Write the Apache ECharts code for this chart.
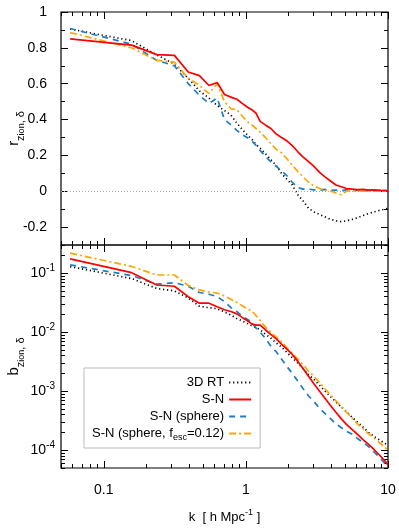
<!DOCTYPE html>
<html>
<head>
<meta charset="utf-8">
<script src="https://cdn.jsdelivr.net/npm/echarts@6/dist/echarts.min.js"></script>
<style>
  html, body { margin: 0; padding: 0; background: #fff; }
  #main { width: 399px; height: 530px; }
</style>
</head>
<body>
<div id="main"></div>
<script>
var chartDom = document.getElementById('main');
var myChart = echarts.init(chartDom);
var option;

// k bins [h/Mpc]
var kVals = [0.058, 0.157, 0.236, 0.314, 0.393, 0.471, 0.55, 0.628, 0.707, 0.785,
  0.864, 0.942, 1.02, 1.10, 1.18, 1.26, 1.37, 1.5, 1.63, 1.78,
  1.95, 2.12, 2.32, 2.53, 2.76, 3.0, 3.3, 3.6, 3.9, 4.3,
  4.7, 5.1, 5.6, 6.1, 6.7, 7.3, 8.0, 8.7, 9.5, 10];

// cross-correlation r (top panel)
var rRT = [0.905, 0.84, 0.76, 0.71, 0.63, 0.56, 0.52, 0.478, 0.45, 0.425,
  0.38, 0.345, 0.315, 0.29, 0.26, 0.24, 0.21, 0.175, 0.145, 0.10,
  0.065, 0.035, -0.02, -0.055, -0.095, -0.115, -0.13, -0.143, -0.155, -0.165,
  -0.17, -0.165, -0.157, -0.148, -0.135, -0.124, -0.115, -0.107, -0.1, -0.095];
var rSN = [0.85, 0.815, 0.762, 0.758, 0.665, 0.645, 0.59, 0.607, 0.54, 0.525,
  0.513, 0.49, 0.47, 0.455, 0.435, 0.39, 0.37, 0.35, 0.32, 0.30,
  0.28, 0.255, 0.22, 0.19, 0.165, 0.14, 0.105, 0.08, 0.06, 0.035,
  0.025, 0.015, 0.012, 0.009, 0.01, 0.006, 0.008, 0.004, 0.005, 0.002];
var rSphere = [0.908, 0.82, 0.73, 0.70, 0.60, 0.535, 0.49, 0.52, 0.40, 0.37,
  0.34, 0.315, 0.30, 0.28, 0.255, 0.228, 0.195, 0.163, 0.14, 0.115,
  0.085, 0.05, 0.02, 0.012, 0.012, 0.008, 0.006, 0.01, 0.004, 0.007,
  0.003, 0.008, 0.004, 0.006, 0.002, 0.005, 0.003, 0.006, 0.002, 0.004];
var rSphereEsc = [0.885, 0.80, 0.73, 0.72, 0.63, 0.59, 0.545, 0.60, 0.50, 0.46,
  0.455, 0.42, 0.39, 0.37, 0.35, 0.33, 0.30, 0.265, 0.235, 0.215,
  0.18, 0.145, 0.11, 0.08, 0.05, 0.03, 0.015, 0.005, 0.003, -0.01,
  -0.02, 0.0, 0.005, 0.003, 0.001, 0.004, 0.0, 0.003, 0.001, 0.0];

// bias b (bottom panel)
var bRT = [0.129, 0.081, 0.055, 0.050, 0.038, 0.0275, 0.026, 0.025, 0.022, 0.0195,
  0.017, 0.0155, 0.0141, 0.0129, 0.012, 0.011, 0.0093, 0.0079, 0.0066, 0.0056,
  0.0045, 0.0037, 0.003, 0.0024, 0.0019, 0.0016, 0.00126, 0.001, 8.3e-4, 6.6e-4,
  5.4e-4, 4.5e-4, 3.6e-4, 3.0e-4, 2.45e-4, 2.0e-4, 1.7e-4, 1.5e-4, 1.3e-4, 1.23e-4];
var bSN = [0.175, 0.102, 0.063, 0.060, 0.040, 0.031, 0.031, 0.027, 0.024, 0.0224,
  0.0204, 0.0178, 0.0158, 0.0138, 0.0132, 0.0132, 0.011, 0.0091, 0.0078, 0.0063,
  0.0051, 0.0042, 0.0032, 0.0024, 0.0018, 0.00135, 0.001, 7.6e-4, 5.9e-4, 4.4e-4,
  3.4e-4, 2.75e-4, 2.24e-4, 1.86e-4, 1.5e-4, 1.26e-4, 1.02e-4, 8.3e-5, 6.6e-5, 5.6e-5];
var bSphere = [0.138, 0.091, 0.065, 0.069, 0.060, 0.047, 0.044, 0.040, 0.033, 0.026,
  0.0224, 0.0186, 0.0166, 0.0148, 0.0117, 0.010, 0.0079, 0.0058, 0.0047, 0.0035,
  0.0026, 0.002, 0.00148, 0.0011, 8.3e-4, 6.8e-4, 5.1e-4, 4.2e-4, 3.5e-4, 2.8e-4,
  2.4e-4, 2.1e-4, 1.86e-4, 1.58e-4, 1.35e-4, 1.15e-4, 9.3e-5, 7.6e-5, 6.0e-5, 5.0e-5];
var bSphereEsc = [0.218, 0.13, 0.093, 0.093, 0.062, 0.052, 0.048, 0.046, 0.041, 0.036,
  0.032, 0.028, 0.025, 0.023, 0.019, 0.0158, 0.0123, 0.010, 0.0083, 0.0069,
  0.0054, 0.0044, 0.0035, 0.0028, 0.0022, 0.0018, 0.0014, 0.0011, 8.9e-4, 6.9e-4,
  5.4e-4, 4.4e-4, 3.5e-4, 2.8e-4, 2.3e-4, 1.9e-4, 1.6e-4, 1.35e-4, 1.12e-4, 1.0e-4];

var names = ['3D RT', 'S-N', 'S-N (sphere)', 'S-N (sphere, fesc=0.12)'];
var colors = ['#000000', '#ff0000', '#1f7dc0', '#ffa500'];
var dashes = [[1.2, 2.8], 'solid', [6, 5], [7, 3, 2, 3]];

// tick positions
var xMajor = [0.1, 1, 10];
var xMinor = [];
[0.01, 0.1, 1].forEach(function (d) {
  for (var m = 2; m <= 9; m++) xMinor.push(+(m * d).toPrecision(3));
});
var rMajor = [-0.2, 0, 0.2, 0.4, 0.6, 0.8, 1];
var rMinor = [-0.3, -0.1, 0.1, 0.3, 0.5, 0.7, 0.9];
var bMajor = [1e-4, 1e-3, 1e-2, 1e-1];
var bMinor = [];
[1e-5, 1e-4, 1e-3, 1e-2, 1e-1].forEach(function (d) {
  for (var m = 2; m <= 9; m++) bMinor.push(+(m * d).toPrecision(3));
});

var font = 'Liberation Sans, Arial, sans-serif';

function ax(o) {
  var a = {
    gridIndex: o.grid,
    position: o.pos,
    type: o.type,
    min: o.min,
    max: o.max,
    axisLine: { show: false, onZero: false },
    axisTick: {
      show: true, inside: true, length: o.len,
      customValues: o.ticks,
      lineStyle: { color: '#000', width: 1 }
    },
    axisLabel: { show: false },
    splitLine: { show: false },
    minorTick: { show: false },
    silent: true
  };
  if (o.type === 'log') a.logBase = 10;
  if (o.label) a.axisLabel = o.label;
  if (o.name) {
    a.name = o.name;
    a.nameLocation = 'middle';
    a.nameGap = o.nameGap;
    a.nameMoveOverlap = false;
    a.nameTextStyle = o.nameStyle;
  }
  return a;
}

var xCommon = { type: 'log', min: 0.05, max: 10 };
function xAx(grid, pos, ticks, len, extra) {
  return ax(Object.assign({ grid: grid, pos: pos, ticks: ticks, len: len }, xCommon, extra || {}));
}

var xAxes = [
  xAx(0, 'bottom', xMajor, 7), xAx(0, 'bottom', xMinor, 4),
  xAx(0, 'top', xMajor, 7), xAx(0, 'top', xMinor, 4),
  xAx(1, 'bottom', xMajor, 7, {
    label: { show: true, customValues: xMajor, margin: 15, fontSize: 14, fontFamily: font, color: '#000' },
    name: 'k  [ h Mpc{sup|-1} ]', nameGap: 40,
    nameStyle: {
      fontSize: 13, fontFamily: font, color: '#000', lineHeight: 18,
      rich: { sup: { fontSize: 9, lineHeight: 9, verticalAlign: 'top', fontFamily: font } }
    }
  }),
  xAx(1, 'bottom', xMinor, 4),
  xAx(1, 'top', xMajor, 7), xAx(1, 'top', xMinor, 4)
];

var nameRich = {
  sub: { fontSize: 11, lineHeight: 11, verticalAlign: 'bottom', fontFamily: font },
  sub2: { fontSize: 9, lineHeight: 1, verticalAlign: 'bottom', fontFamily: font }
};
var topY = { type: 'value', min: -0.3, max: 1 };
var botY = { type: 'log', min: 5e-5, max: 0.3 };

var yAxes = [
  ax(Object.assign({ grid: 0, pos: 'left', ticks: rMajor, len: 7,
    label: { show: true, customValues: rMajor, margin: 14, fontSize: 14, fontFamily: font, color: '#000' },
    name: 'r{sub|z}{sub2|ion}{sub|, δ}', nameGap: 35,
    nameStyle: { fontSize: 15, fontFamily: font, color: '#000', lineHeight: 24, rich: nameRich }
  }, topY)),
  ax(Object.assign({ grid: 0, pos: 'left', ticks: rMinor, len: 4 }, topY)),
  ax(Object.assign({ grid: 0, pos: 'right', ticks: rMajor, len: 7 }, topY)),
  ax(Object.assign({ grid: 0, pos: 'right', ticks: rMinor, len: 4 }, topY)),
  ax(Object.assign({ grid: 1, pos: 'left', ticks: bMajor, len: 7,
    label: {
      show: true, customValues: bMajor, margin: 6, fontSize: 14, fontFamily: font, color: '#000',
      lineHeight: 20,
      formatter: function (v) { return '10{sup|' + Math.round(Math.log10(v)) + '}'; },
      rich: { sup: { fontSize: 10, lineHeight: 10, verticalAlign: 'top', fontFamily: font } }
    },
    name: 'b{sub|z}{sub2|ion}{sub|, δ}', nameGap: 35,
    nameStyle: { fontSize: 15, fontFamily: font, color: '#000', lineHeight: 24, rich: nameRich }
  }, botY)),
  ax(Object.assign({ grid: 1, pos: 'left', ticks: bMinor, len: 4 }, botY)),
  ax(Object.assign({ grid: 1, pos: 'right', ticks: bMajor, len: 7 }, botY)),
  ax(Object.assign({ grid: 1, pos: 'right', ticks: bMinor, len: 4 }, botY))
];

function pairs(arr) {
  return kVals.map(function (k, i) { return [k, arr[i]]; });
}

function line(idx, arr, panel) {
  var s = {
    name: names[idx],
    type: 'line',
    xAxisIndex: panel * 4,
    yAxisIndex: panel * 4,
    data: pairs(arr),
    symbol: 'none',
    showSymbol: false,
    silent: true,
    animation: false,
    z: idx === 1 ? 3 : 2,
    lineStyle: { color: colors[idx], width: 1.7, type: dashes[idx], cap: 'butt' },
    itemStyle: { color: colors[idx] }
  };
  return s;
}

var series = [
  line(0, rRT, 0), line(1, rSN, 0), line(2, rSphere, 0), line(3, rSphereEsc, 0),
  line(0, bRT, 1), line(1, bSN, 1), line(2, bSphere, 1), line(3, bSphereEsc, 1)
];
// dotted zero line in the top panel
series[0].markLine = {
  silent: true, symbol: 'none', label: { show: false },
  lineStyle: { color: '#aaaaaa', type: [1, 2], width: 1 },
  data: [{ yAxis: 0 }]
};

option = {
  backgroundColor: '#fff',
  animation: false,
  grid: [
    { left: 61, right: 11, top: 12, height: 233, show: true, borderColor: '#000', borderWidth: 1.2,
      backgroundColor: 'transparent', outerBoundsMode: 'none' },
    { left: 61, right: 11, top: 245, height: 223, show: true, borderColor: '#000', borderWidth: 1.2,
      backgroundColor: 'transparent', outerBoundsMode: 'none' }
  ],
  legend: {
    orient: 'vertical',
    align: 'right',
    left: 84,
    top: 368,
    padding: [6, 8, 6, 8],
    itemGap: 0,
    itemWidth: 22,
    itemHeight: 12,
    borderColor: '#bbbbbb',
    borderWidth: 1,
    data: names,
    selectedMode: false,
    itemStyle: { color: 'transparent', borderColor: 'transparent', borderWidth: 0, opacity: 0 },
    formatter: function (n) {
      return n === names[3] ? 'S-N (sphere, f{sub|esc}=0.12)' : n;
    },
    textStyle: {
      fontSize: 13, fontFamily: font, color: '#000', lineHeight: 17,
      rich: { sub: { fontSize: 9, lineHeight: 9, verticalAlign: 'bottom', fontFamily: font } }
    }
  },
  xAxis: xAxes,
  yAxis: yAxes,
  series: series
};

option && myChart.setOption(option);
</script>
</body>
</html>
